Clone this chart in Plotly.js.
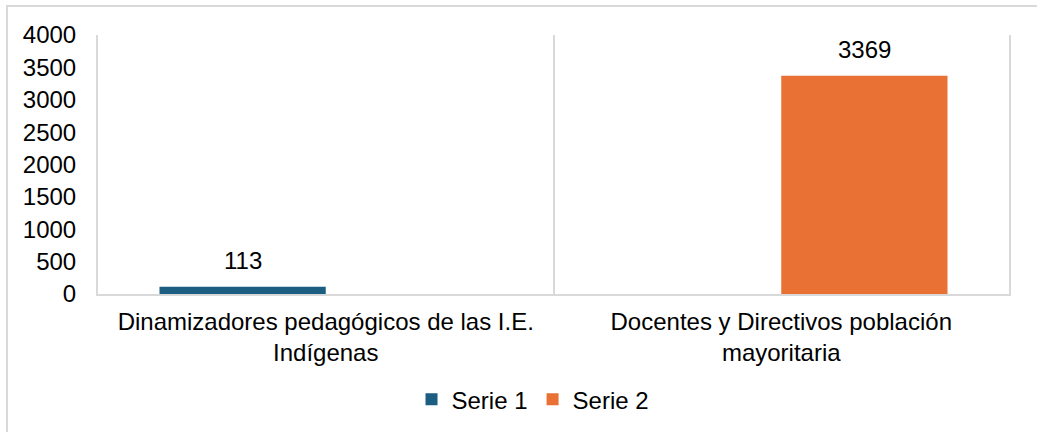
<!DOCTYPE html>
<html>
<head>
<meta charset="utf-8">
<script src="https://cdn.plot.ly/plotly-3.0.1.min.js"></script>
<style>html,body{margin:0;padding:0;background:#fff;}#chart{width:1037px;height:432px;}</style>
</head>
<body>
<div id="chart"></div>
<script>
const categories = ["Dinamizadores pedagógicos de las I.E.<br>Indígenas", "Docentes y Directivos población<br>mayoritaria"];
const serie1 = [113, null];
const serie2 = [null, 3369];
const seriesNames = ["Serie 1", "Serie 2"];
const yTicks = [0, 500, 1000, 1500, 2000, 2500, 3000, 3500, 4000];

const FONT = "Liberation Sans, Arial, sans-serif";
const FS = 24;
const BARGAP = 0.27;
const seriesList = [serie1, serie2];
const colors = ["#1b5e82", "#e87133"];

const traces = seriesList.map((vals, i) => ({
  type: "bar", name: seriesNames[i], x: categories, y: vals, marker: {color: colors[i]}
}));

// data labels: centred over each bar in its group slot
const slot = (1 - BARGAP) / seriesList.length;
const annotations = [];
seriesList.forEach((vals, i) => {
  vals.forEach((v, c) => {
    if (v === null) return;
    annotations.push({
      xref: "x", yref: "y", x: c - (1 - BARGAP) / 2 + slot * (i + 0.5), y: v,
      text: String(v), showarrow: false, yanchor: "bottom", yshift: 11,
      font: {family: FONT, size: FS, color: "#000"}
    });
  });
});

const layout = {
  width: 1037, height: 432,
  margin: {l: 98, r: 28, t: 35, b: 138},
  paper_bgcolor: "#fff", plot_bgcolor: "#fff",
  font: {family: FONT, size: FS, color: "#000"},
  barmode: "group", bargap: BARGAP, bargroupgap: 0,
  showlegend: true,
  legend: {orientation: "h", xref: "container", x: 0.514, xanchor: "center", yref: "container", y: 0.075, yanchor: "middle",
           font: {family: FONT, size: FS, color: "#000"}, itemwidth: 30, traceorder: "normal"},
  xaxis: {type: "category", showgrid: true, tickson: "boundaries", gridcolor: "#d9d9d9", gridwidth: 2,
          showline: true, linecolor: "#d9d9d9", linewidth: 2, ticks: "", ticklabelstandoff: 5,
          tickfont: {family: FONT, size: FS, color: "#000"}, zeroline: false, fixedrange: true},
  yaxis: {range: [0, 4000], tickvals: yTicks, ticktext: yTicks.map(String), showgrid: false, zeroline: false,
          showline: true, mirror: true, linecolor: "#d9d9d9", linewidth: 2, ticks: "", ticklabelstandoff: 15,
          tickfont: {family: FONT, size: FS, color: "#000"}, fixedrange: true},
  annotations: annotations,
  shapes: [{type: "rect", xref: "paper", yref: "paper", x0: -0.0999, x1: 1.04, y0: -0.6, y1: 1.112,
            line: {color: "#d9d9d9", width: 2}, fillcolor: "rgba(0,0,0,0)", layer: "below"}]
};

Plotly.newPlot("chart", traces, layout, {displayModeBar: false, staticPlot: true});
</script>
</body>
</html>
